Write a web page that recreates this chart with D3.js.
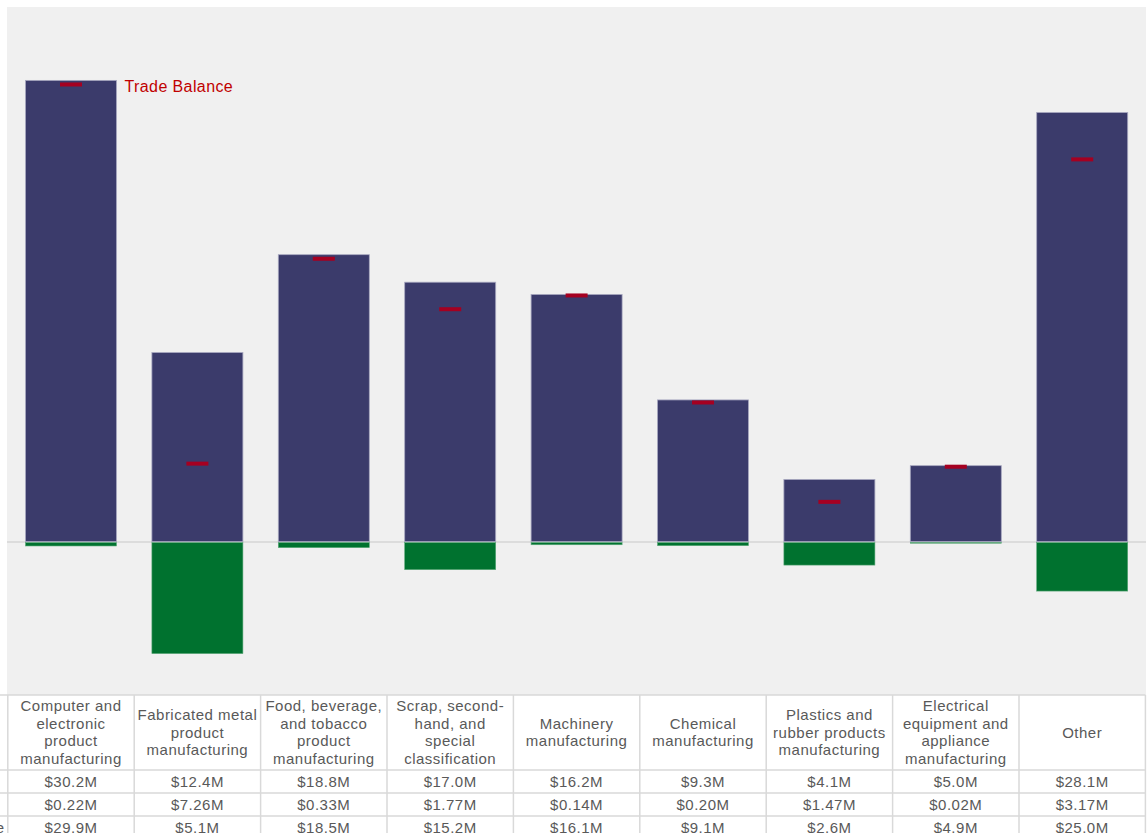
<!DOCTYPE html>
<html>
<head>
<meta charset="utf-8">
<script src="https://cdn.jsdelivr.net/npm/d3@7"></script>
<style>
  html, body { margin: 0; padding: 0; background: #ffffff; overflow: hidden; }
  svg { display: block; }
</style>
</head>
<body>
<svg id="chart" width="1148" height="833"></svg>
<script>
const categories = [
  "Computer and electronic product manufacturing",
  "Fabricated metal product manufacturing",
  "Food, beverage, and tobacco product manufacturing",
  "Scrap, second-hand, and special classification",
  "Machinery manufacturing",
  "Chemical manufacturing",
  "Plastics and rubber products manufacturing",
  "Electrical equipment and appliance manufacturing",
  "Other"
];
const headerLines = [
  ["Computer and", "electronic", "product", "manufacturing"],
  ["Fabricated metal", "product", "manufacturing"],
  ["Food, beverage,", "and tobacco", "product", "manufacturing"],
  ["Scrap, second-", "hand, and", "special", "classification"],
  ["Machinery", "manufacturing"],
  ["Chemical", "manufacturing"],
  ["Plastics and", "rubber products", "manufacturing"],
  ["Electrical", "equipment and", "appliance", "manufacturing"],
  ["Other"]
];
const exportsM = [30.2, 12.4, 18.8, 17.0, 16.2, 9.3, 4.1, 5.0, 28.1];
const importsM = [0.22, 7.26, 0.33, 1.77, 0.14, 0.20, 1.47, 0.02, 3.17];
const balanceM = [29.9, 5.1, 18.5, 15.2, 16.1, 9.1, 2.6, 4.9, 25.0];
const exportLabels = ["$30.2M","$12.4M","$18.8M","$17.0M","$16.2M","$9.3M","$4.1M","$5.0M","$28.1M"];
const importLabels = ["$0.22M","$7.26M","$0.33M","$1.77M","$0.14M","$0.20M","$1.47M","$0.02M","$3.17M"];
const balanceLabels = ["$29.9M","$5.1M","$18.5M","$15.2M","$16.1M","$9.1M","$2.6M","$4.9M","$25.0M"];
const rowNames = ["Exports", "Imports", "Trade Balance"];

const svg = d3.select("#chart");
const font = "'Liberation Sans', Arial, sans-serif";

const panel = { x0: 7, x1: 1146, y0: 7, y1: 695 };
const colLeft = 7.8, colRight = 1145.4;

const x = d3.scaleBand()
  .domain(categories)
  .range([colLeft, colRight])
  .paddingInner(0.28)
  .paddingOuter(0.14);
const xCol = d3.scaleBand().domain(categories).range([colLeft, colRight]).padding(0);

const y = d3.scaleLinear().domain([-10, 35]).range([panel.y1, panel.y0]);

// panel background
svg.append("rect")
  .attr("x", panel.x0).attr("y", panel.y0)
  .attr("width", panel.x1 - panel.x0).attr("height", panel.y1 - panel.y0)
  .attr("fill", "#f0f0f0");

// zero line
svg.append("line")
  .attr("x1", panel.x0).attr("x2", panel.x1)
  .attr("y1", y(0)).attr("y2", y(0))
  .attr("stroke", "#d6d6d6").attr("stroke-width", 1.5);

// exports bars
svg.append("g").selectAll("rect")
  .data(categories)
  .join("rect")
  .attr("x", d => x(d))
  .attr("width", x.bandwidth())
  .attr("y", (d, i) => y(exportsM[i]))
  .attr("height", (d, i) => y(0) - y(exportsM[i]) - 0.5)
  .attr("fill", "#3b3b6b")
  .attr("stroke", "#a8a8c0").attr("stroke-width", 0.8);

// imports bars (negative)
svg.append("g").selectAll("rect")
  .data(categories)
  .join("rect")
  .attr("x", d => x(d))
  .attr("width", x.bandwidth())
  .attr("y", y(0) + 0.5)
  .attr("height", (d, i) => Math.max(0.6, y(-importsM[i]) - y(0)))
  .attr("fill", "#00722f")
  .attr("stroke", "#5aa878").attr("stroke-width", 0.6);

// trade balance markers
svg.append("g").selectAll("rect")
  .data(categories)
  .join("rect")
  .attr("x", d => x(d) + x.bandwidth() / 2 - 11)
  .attr("width", 22)
  .attr("y", (d, i) => y(balanceM[i]) - 2.5)
  .attr("height", 4)
  .attr("fill", "#a50021");

// trade balance label
svg.append("text")
  .attr("x", x(categories[0]) + x.bandwidth() + 8)
  .attr("y", 92)
  .attr("font-family", font)
  .attr("font-size", 16)
  .attr("letter-spacing", 0.4)
  .attr("fill", "#c00000")
  .text("Trade Balance");

// table
const tableTop = panel.y1;
const headerH = 75, rowH = 23;
const table = svg.append("g");
table.append("rect")
  .attr("x", colLeft).attr("y", tableTop)
  .attr("width", colRight - colLeft).attr("height", headerH + rowH * 3)
  .attr("fill", "#ffffff");

const gridColor = "#d9d9d9";
const hLines = [tableTop, tableTop + headerH, tableTop + headerH + rowH, tableTop + headerH + 2 * rowH, tableTop + headerH + 3 * rowH];
table.selectAll("line.h")
  .data(hLines)
  .join("line")
  .attr("x1", -10).attr("x2", colRight)
  .attr("y1", d => d).attr("y2", d => d)
  .attr("stroke", gridColor).attr("stroke-width", 1.5);
const vLines = categories.map(c => xCol(c)).concat([colRight]);
table.selectAll("line.v")
  .data(vLines)
  .join("line")
  .attr("x1", d => d).attr("x2", d => d)
  .attr("y1", tableTop).attr("y2", tableTop + headerH + rowH * 3)
  .attr("stroke", gridColor).attr("stroke-width", 1.5);

const fs = 15, ls = 0.5;
// header text
const lineH = 17.5;
categories.forEach((c, i) => {
  const lines = headerLines[i];
  const cx = xCol(c) + xCol.bandwidth() / 2;
  const cy = tableTop + headerH / 2;
  const t = table.append("text")
    .attr("x", cx)
    .attr("text-anchor", "middle")
    .attr("font-family", font)
    .attr("font-size", fs)
    .attr("letter-spacing", ls)
    .attr("fill", "#595959");
  lines.forEach((ln, j) => {
    t.append("tspan")
      .attr("x", cx)
      .attr("y", cy + (j - (lines.length - 1) / 2) * lineH + 5)
      .text(ln);
  });
});

// value rows
const rows = [exportLabels, importLabels, balanceLabels];
rows.forEach((vals, r) => {
  const cy = tableTop + headerH + rowH * r + rowH / 2 + 5.5;
  table.append("text")
    .attr("x", -99).attr("y", cy)
    .attr("font-family", font).attr("font-size", fs)
    .attr("letter-spacing", ls)
    .attr("fill", "#595959")
    .text(rowNames[r]);
  table.append("g").selectAll("text")
    .data(categories)
    .join("text")
    .attr("x", d => xCol(d) + xCol.bandwidth() / 2)
    .attr("y", cy)
    .attr("text-anchor", "middle")
    .attr("font-family", font)
    .attr("font-size", fs)
    .attr("letter-spacing", ls)
    .attr("fill", "#595959")
    .text((d, i) => vals[i]);
});
</script>
</body>
</html>
